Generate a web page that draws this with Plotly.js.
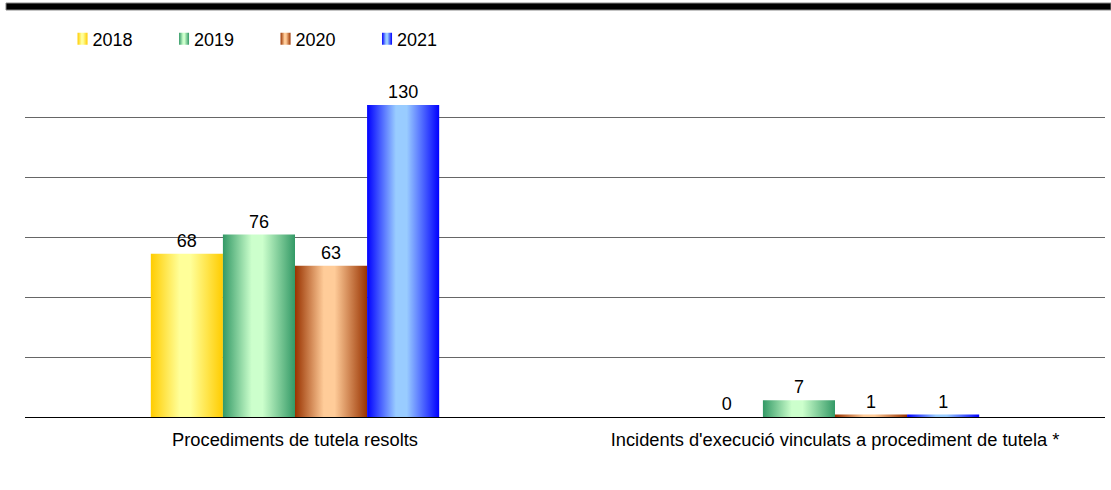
<!DOCTYPE html>
<html>
<head>
<meta charset="utf-8">
<script src="https://cdn.plot.ly/plotly-3.0.1.min.js"></script>
<style>
  html, body { margin: 0; padding: 0; background: #fff; }
  #chart { width: 1111px; height: 490px; }
</style>
</head>
<body>
<div id="chart"></div>
<script>
const categories = [
  "Procediments de tutela resolts",
  "Incidents d'execució vinculats a procediment de tutela *"
];
const years = ["2018", "2019", "2020", "2021"];
const values2018 = [68, 0];
const values2019 = [76, 7];
const values2020 = [63, 1];
const values2021 = [130, 1];
const seriesValues = [values2018, values2019, values2020, values2021];
const darkColors = ["#FFCC00", "#339966", "#993300", "#0000FF"];
const lightColors = ["#FFFF99", "#CCFFCC", "#FFCC99", "#99CCFF"];
const gridValues = [25, 50, 75, 100, 125];

const FONT = "Liberation Sans, Arial, sans-serif";

const traces = years.map((yr, i) => ({
  type: "bar",
  name: yr,
  x: categories,
  y: seriesValues[i],
  text: seriesValues[i].map(String),
  textposition: "outside",
  textfont: { family: FONT, size: 18, color: "#000" },
  cliponaxis: false,
  marker: { color: darkColors[i], line: { width: 0 } },
  hoverinfo: "skip"
}));

const layout = {
  width: 1111,
  height: 490,
  margin: { l: 25, r: 6, t: 57, b: 73 },
  paper_bgcolor: "#fff",
  plot_bgcolor: "#fff",
  barmode: "group",
  bargap: 0.466,
  bargroupgap: 0,
  font: { family: FONT, size: 18, color: "#000" },
  showlegend: true,
  legend: {
    orientation: "h",
    x: 0.0255,
    xanchor: "left",
    y: 1.05,
    yanchor: "middle",
    font: { family: FONT, size: 18, color: "#000" },
    entrywidth: 56.5,
    entrywidthmode: "pixels",
    bgcolor: "rgba(0,0,0,0)",
    traceorder: "normal"
  },
  xaxis: {
    type: "category",
    showgrid: false,
    showline: true,
    linecolor: "#000",
    linewidth: 1,
    ticks: "",
    ticklabelstandoff: 6,
    tickfont: { family: FONT, size: 18.3, color: "#000" },
    fixedrange: true
  },
  yaxis: {
    range: [0, 150],
    tickmode: "array",
    tickvals: gridValues,
    showticklabels: false,
    showgrid: true,
    gridcolor: "#666",
    gridwidth: 1,
    zeroline: false,
    ticks: "",
    fixedrange: true
  },
  shapes: [
    {
      type: "rect",
      xref: "paper", yref: "paper",
      x0: (6 - 25) / 1080, x1: (1111 - 25) / 1080,
      y0: (417 - 10) / 360, y1: (417 - 3) / 360,
      fillcolor: "#000",
      line: { color: "#888", width: 1 }
    }
  ]
};

function applyGradients(gd) {
  const ns = "http://www.w3.org/2000/svg";
  const svg = gd.querySelector("svg.main-svg");
  let defs = svg.querySelector("defs");
  if (!defs) { defs = document.createElementNS(ns, "defs"); svg.insertBefore(defs, svg.firstChild); }
  years.forEach((yr, i) => {
    const lg = document.createElementNS(ns, "linearGradient");
    lg.setAttribute("id", "barGrad" + i);
    lg.setAttribute("x1", "0"); lg.setAttribute("y1", "0");
    lg.setAttribute("x2", "1"); lg.setAttribute("y2", "0");
    [[0, darkColors[i]], [0.4, lightColors[i]], [0.55, lightColors[i]], [1, darkColors[i]]].forEach(([o, c]) => {
      const s = document.createElementNS(ns, "stop");
      s.setAttribute("offset", o);
      s.setAttribute("stop-color", c);
      lg.appendChild(s);
    });
    defs.appendChild(lg);
  });
  gd.querySelectorAll(".barlayer .trace").forEach(tr => {
    const d = tr.__data__;
    const idx = d && d[0] && d[0].trace ? d[0].trace.index : null;
    if (idx === null) return;
    tr.querySelectorAll(".point path").forEach(p => { p.style.fill = "url(#barGrad" + idx + ")"; });
  });
  gd.querySelectorAll(".legend .traces").forEach(tr => {
    const d = tr.__data__;
    const idx = d && d[0] && d[0].trace ? d[0].trace.index : null;
    if (idx === null) return;
    tr.querySelectorAll(".legendpoints path").forEach(p => {
      p.setAttribute("d", "M5,6H-5V-6H5Z");
      p.setAttribute("transform", "translate(30,0)");
      p.style.fill = "url(#barGrad" + idx + ")";
      p.style.stroke = "none";
    });
  });
}

Plotly.newPlot("chart", traces, layout, { staticPlot: true, displayModeBar: false })
  .then(gd => applyGradients(gd));
</script>
</body>
</html>
